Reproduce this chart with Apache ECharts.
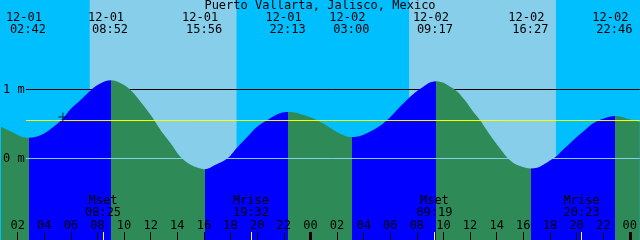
<!DOCTYPE html>
<html><head><meta charset="utf-8">
<script src="https://cdn.jsdelivr.net/npm/echarts@6/dist/echarts.min.js"></script>
<style>html,body{margin:0;padding:0;background:#00BFFF}#c{width:640px;height:240px}</style>
</head><body><div id="c"></div>
<script>
// ---------------- data ----------------
const stationName = 'Puerto Vallarta, Jalisco, Mexico';
// tide curve: hours since 12-01 00:00, heights in metres
const tideHours = [0.75,1.5,2.25,2.85,3.75,4.5,5.4,6.0,6.75,7.5,8.25,9.0,9.75,10.5,11.25,12.0,12.75,13.5,14.25,15.0,15.75,16.05,16.875,17.75,18.5,19.25,20.0,20.75,21.75,22.35,23.5,24.75,26.25,27.15,28.5,29.75,31.0,32.25,33.45,34.75,35.5,36.25,36.75,37.5,38.25,39.0,39.75,40.575,42.25,43.0,43.75,44.5,45.25,46.05,46.875,48.225,48.75];
const tideHeights = [0.46,0.39,0.32,0.30,0.34,0.43,0.58,0.72,0.85,0.99,1.09,1.135,1.09,0.99,0.82,0.63,0.41,0.22,0.02,-0.09,-0.145,-0.155,-0.09,0.0,0.16,0.31,0.46,0.555,0.66,0.675,0.63,0.53,0.36,0.31,0.39,0.555,0.80,1.01,1.12,1.01,0.87,0.675,0.555,0.34,0.145,-0.025,-0.11,-0.145,0.0,0.13,0.265,0.39,0.51,0.58,0.617,0.555,0.53];
// high / low tide events
const eventDates = ['12-01','12-01','12-01','12-01','12-02','12-02','12-02','12-02'];
const eventTimes = ['02:42','08:52','15:56','22:13','03:00','09:17','16:27','22:46'];
// moon events
const moonNames = ['Mset','Mrise','Mset','Mrise'];
const moonDates = ['12-01','12-01','12-02','12-02'];
const moonTimes = ['08:25','19:32','09:19','20:23'];
// sun
const sunriseDates = ['12-01','12-02'];
const sunriseTimes = ['07:25','07:25'];
const sunsetDates = ['12-01','12-02'];
const sunsetTimes = ['18:27','18:27'];
// axis ticks
const hourTickValues = [2,4,6,8,10,12,14,16,18,20,22,24,26,28,30,32,34,36,38,40,42,44,46,48];
const hourTickLabels = ['02','04','06','08','10','12','14','16','18','20','22','00','02','04','06','08','10','12','14','16','18','20','22','00'];
const midnightValues = [24,48];
const heightTickValues = [0,1];
const heightTickLabels = ['0 m','1 m'];
const meanLevel = 0.55;       // yellow reference level
const markHours = [5.4];      // current-time cross
const markHeights = [0.6];

// ---------------- helpers ----------------
function toHour(d, t) {
  const day = parseInt(d.split('-')[1], 10) - 1;
  const [hh, mm] = t.split(':').map(Number);
  return day * 24 + hh + mm / 60;
}
function nearest(arr, v) {
  let bi = 0, bd = Infinity;
  arr.forEach((a, i) => { const d = Math.abs(a - v); if (d < bd) { bd = d; bi = i; } });
  return bi;
}
const eventHours = eventDates.map((d, i) => toHour(d, eventTimes[i]));
const moonHours = moonDates.map((d, i) => toHour(d, moonTimes[i]));
const sunrise = sunriseDates.map((d, i) => toHour(d, sunriseTimes[i]));
const sunset = sunsetDates.map((d, i) => toHour(d, sunsetTimes[i]));

// turning points of the tide curve (from the data)
const turns = [];
for (let i = 1; i < tideHeights.length - 1; i++) {
  const a = tideHeights[i - 1], b = tideHeights[i], c = tideHeights[i + 1];
  if ((b > a && b > c) || (b < a && b < c)) turns.push({ x: tideHours[i], high: b > a });
}
const RISE = '#0000FF', FALL = '#2E8B57';
const pieces = [];
let prev = -Infinity;
turns.forEach(t => {
  pieces.push({ gte: prev, lt: t.x, color: t.high ? RISE : FALL });
  prev = t.x;
});
pieces.push({ gte: prev, lt: Infinity, color: turns[turns.length - 1].high ? FALL : RISE });

// ---------------- chart ----------------
const FONT = 'DejaVu Sans Mono';
const FS = 12;
const X_MIN = 0.75, X_MAX = 48.75;
const Y_MIN = -81.5 / 69, Y_MAX = 158.5 / 69;
const LINE_START = 2.625;

const txt = { fontFamily: FONT, fontSize: FS, color: '#000' };
const xBase = {
  type: 'value', min: X_MIN, max: X_MAX, gridIndex: 0, z: 10,
  splitLine: { show: false }, axisLine: { show: false, onZero: false }
};

const chart = echarts.init(document.getElementById('c'), null, { renderer: 'canvas' });
chart.setOption({
  animation: false,
  backgroundColor: '#00BFFF',
  title: {
    text: stationName, left: 'center', top: 0, padding: [0, 0, 0, 0],
    textStyle: Object.assign({ fontWeight: 'normal' }, txt)
  },
  grid: { left: 0, right: 0, top: 0, bottom: 0 },
  xAxis: [
    Object.assign({}, xBase, {
      position: 'bottom',
      axisTick: { show: true, inside: true, length: 8, customValues: hourTickValues, lineStyle: { color: '#000', width: 1 } },
      axisLabel: Object.assign({ show: true, inside: true, margin: 8, lineHeight: 12, customValues: hourTickValues,
        formatter: v => hourTickLabels[nearest(hourTickValues, v)] }, txt)
    }),
    Object.assign({}, xBase, {
      position: 'bottom',
      axisTick: { show: true, inside: true, length: 8, customValues: midnightValues, lineStyle: { color: '#000', width: 3 } },
      axisLabel: { show: false }
    }),
    Object.assign({}, xBase, {
      position: 'bottom',
      axisTick: { show: true, inside: true, length: 8, customValues: moonHours, lineStyle: { color: '#FFFF00', width: 1 } },
      axisLabel: Object.assign({ show: true, inside: true, margin: 21, lineHeight: 12, customValues: moonHours,
        formatter: v => { const i = nearest(moonHours, v); return moonNames[i] + '\n' + moonTimes[i]; } }, txt)
    }),
    Object.assign({}, xBase, {
      position: 'top',
      axisTick: { show: false },
      axisLabel: {
        show: true, inside: true, margin: 12, customValues: eventHours,
        formatter: v => { const i = nearest(eventHours, v); return '{d|' + eventDates[i] + '}\n{t|' + eventTimes[i] + '}'; },
        rich: {
          d: Object.assign({ lineHeight: 12, padding: [0, 6, 0, 0] }, txt),
          t: Object.assign({ lineHeight: 12, padding: [0, 0, 0, 2] }, txt)
        }
      }
    })
  ],
  yAxis: {
    type: 'value', min: Y_MIN, max: Y_MAX, z: 10,
    splitLine: { show: false }, axisLine: { show: false, onZero: false }, axisTick: { show: false },
    axisLabel: Object.assign({ show: true, inside: true, margin: 2, customValues: heightTickValues,
      formatter: v => heightTickLabels[nearest(heightTickValues, v)] }, txt)
  },
  visualMap: { show: false, type: 'piecewise', dimension: 0, seriesIndex: 1, pieces: pieces },
  series: [
    {
      type: 'line', z: 2, silent: true, symbol: 'none', xAxisIndex: 0,
      data: [[LINE_START, 1], [X_MAX, 1]],
      lineStyle: { color: '#000', width: 1 },
      markArea: {
        silent: true, itemStyle: { color: '#87CEEB', opacity: 1 },
        data: sunrise.map((s, i) => [{ xAxis: s }, { xAxis: sunset[i] }])
      }
    },
    {
      type: 'line', z: 3, silent: true, symbol: 'none', xAxisIndex: 0,
      smooth: 0.4,
      data: tideHours.map((h, i) => [h, tideHeights[i]]),
      lineStyle: { width: 0, opacity: 0 },
      areaStyle: { opacity: 1, origin: 'start' }
    },
    {
      type: 'line', z: 4, silent: true, symbol: 'none', xAxisIndex: 0,
      data: [[LINE_START, 0], [X_MAX, 0]],
      lineStyle: { color: '#87CEEB', width: 1 }
    },
    {
      type: 'line', z: 4, silent: true, symbol: 'none', xAxisIndex: 0,
      data: [[LINE_START, meanLevel], [X_MAX, meanLevel]],
      lineStyle: { color: '#FFFF00', width: 1 }
    },
    {
      type: 'scatter', z: 5, silent: true, xAxisIndex: 0,
      symbol: 'path://M0,4L9,4L9,5L0,5Z M4,0L5,0L5,9L4,9Z', symbolSize: 9,
      itemStyle: { color: '#000' },
      data: markHours.map((h, i) => [h, markHeights[i]])
    }
  ]
});
</script>
</body></html>
